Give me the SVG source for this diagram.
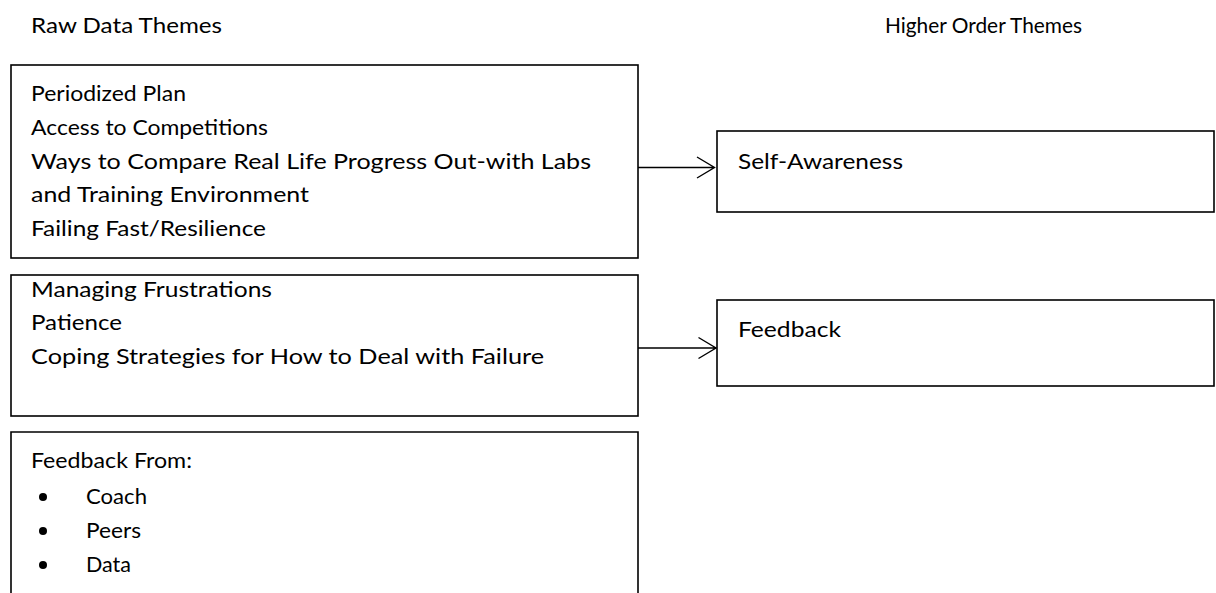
<svg xmlns="http://www.w3.org/2000/svg" width="1216" height="593" viewBox="0 0 1216 593">
<style>
text{font-family:Lato,"Liberation Sans",Arial,sans-serif;font-size:22px;fill:#000}
.box{fill:#fff;stroke:#000;stroke-width:1.6}
.conn{stroke:#000;stroke-width:1.4;fill:none}
</style>
<rect width="1216" height="593" fill="#fff"/>
<g id="heading-raw"><text x="31" y="33" textLength="191" lengthAdjust="spacingAndGlyphs">Raw Data Themes</text></g>
<g id="heading-higher"><text x="885" y="33" textLength="197" lengthAdjust="spacingAndGlyphs">Higher Order Themes</text></g>
<g id="raw1">
<rect class="box" x="11" y="65" width="627" height="193"/>
<text x="31" y="101" textLength="155" lengthAdjust="spacingAndGlyphs">Periodized Plan</text>
<text x="31" y="135" textLength="237" lengthAdjust="spacingAndGlyphs">Access to Competitions</text>
<text x="31" y="169" textLength="560" lengthAdjust="spacingAndGlyphs">Ways to Compare Real Life Progress Out-with Labs</text>
<text x="31" y="202" textLength="278" lengthAdjust="spacingAndGlyphs">and Training Environment</text>
<text x="31" y="236" textLength="235" lengthAdjust="spacingAndGlyphs">Failing Fast/Resilience</text>
</g>
<g id="raw2">
<rect class="box" x="11" y="275" width="627" height="141"/>
<text x="31" y="297" textLength="241" lengthAdjust="spacingAndGlyphs">Managing Frustrations</text>
<text x="31" y="330" textLength="91" lengthAdjust="spacingAndGlyphs">Patience</text>
<text x="31" y="364" textLength="513" lengthAdjust="spacingAndGlyphs">Coping Strategies for How to Deal with Failure</text>
</g>
<g id="raw3">
<path class="box" d="M11,594 V432 H638 V594"/>
<text x="31" y="468" textLength="161" lengthAdjust="spacingAndGlyphs">Feedback From:</text>
<circle cx="43" cy="497" r="4"/>
<text x="86" y="504" textLength="61" lengthAdjust="spacingAndGlyphs">Coach</text>
<circle cx="43" cy="531" r="4"/>
<text x="86" y="538" textLength="55" lengthAdjust="spacingAndGlyphs">Peers</text>
<circle cx="43" cy="565" r="4"/>
<text x="86" y="572" textLength="45" lengthAdjust="spacingAndGlyphs">Data</text>
</g>
<g id="self-awareness">
<rect class="box" x="717" y="131" width="497" height="81"/>
<text x="738" y="169" textLength="165" lengthAdjust="spacingAndGlyphs">Self-Awareness</text>
</g>
<g id="feedback">
<rect class="box" x="717" y="300" width="497" height="86"/>
<text x="738" y="337" textLength="103" lengthAdjust="spacingAndGlyphs">Feedback</text>
</g>
<g id="connectors">
<path class="conn" d="M638,167.5 H714.5 M697,157 L714.5,167.5 L697,178"/>
<path class="conn" d="M638,348 H716 M698.5,337.5 L716,348 L698.5,358.5"/>
</g>
</svg>
